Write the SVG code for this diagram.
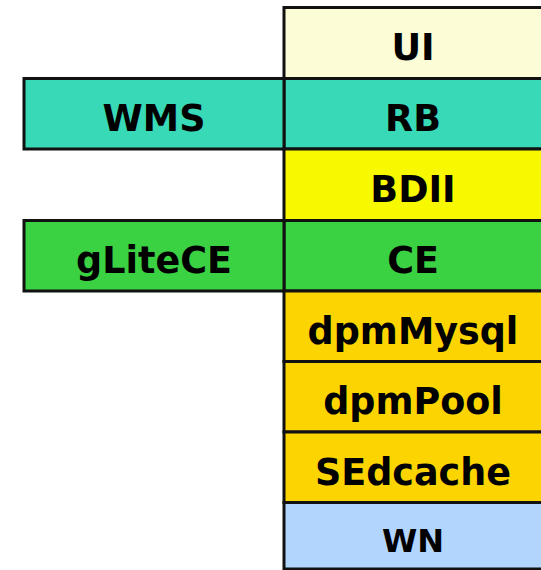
<svg xmlns="http://www.w3.org/2000/svg" width="541" height="570" viewBox="0 0 541 570">
<style>
rect{stroke:#111;stroke-width:3}
text{font-family:"DejaVu Sans","Verdana",sans-serif;font-weight:bold;font-size:36.5px;fill:#000;text-anchor:middle}
</style>
<rect width="541" height="570" fill="#fff" style="stroke:none"/>
<g id="UI"><rect x="284" y="7.5" width="260" height="71" fill="#FCFCD6"/><text x="413" y="59.5">UI</text></g>
<g id="RB"><rect x="284" y="78.5" width="260" height="70.5" fill="#38D9B6"/><text x="413" y="130.5">RB</text></g>
<g id="WMS"><rect x="24" y="78.5" width="260" height="70.5" fill="#38D9B6"/><text x="154" y="130.5">WMS</text></g>
<g id="BDII"><rect x="284" y="149" width="260" height="71.5" fill="#F8F800"/><text x="413" y="201.5">BDII</text></g>
<g id="CE"><rect x="284" y="220.5" width="260" height="70.5" fill="#3AD143"/><text x="413" y="272.5">CE</text></g>
<g id="gLiteCE"><rect x="24" y="220.5" width="260" height="70.5" fill="#3AD143"/><text x="154" y="272.5">gLiteCE</text></g>
<g id="dpmMysql"><rect x="284" y="291" width="260" height="70.5" fill="#FCD400"/><text x="413" y="343.5">dpmMysql</text></g>
<g id="dpmPool"><rect x="284" y="361.5" width="260" height="70.5" fill="#FCD400"/><text x="413" y="413.5">dpmPool</text></g>
<g id="SEdcache"><rect x="284" y="432" width="260" height="70.5" fill="#FCD400"/><text x="413" y="484.5">SEdcache</text></g>
<g id="WN"><rect x="284" y="502.5" width="260" height="66.5" fill="#B1D5FC"/><text x="413" y="552" style="font-size:32px">WN</text></g>
<g id="connectors"></g>
</svg>
